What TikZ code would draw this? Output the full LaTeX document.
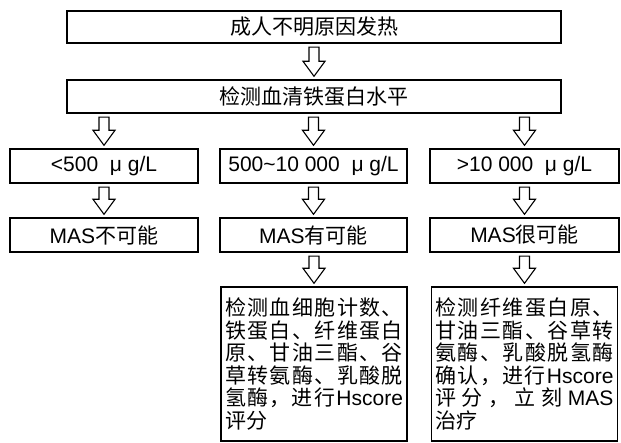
\documentclass[tikz,border=0pt]{standalone}
\usepackage{fontspec}
\setmainfont{Liberation Sans}
\newfontfamily\cjk{Noto Sans CJK SC}
\usetikzlibrary{calc}
\setlength\parindent{0pt}
\newcommand\spreadln[1]{\leavevmode\hbox to 178pt{#1}}
\newcommand\hollowarrow[2]{%
  \draw[arrowline] let \p1=(#1), \p2=(#2) in
    (\x2-5pt,\y1-3.5pt) -- (\x2+5pt,\y1-3.5pt) -- (\x2+5pt,\y2+18pt) --
    (\x2+11pt,\y2+18pt) -- (\x2,\y2+3pt) -- (\x2-11pt,\y2+18pt) --
    (\x2-5pt,\y2+18pt) -- cycle;}
\begin{document}
\begin{tikzpicture}[x=1pt,y=-1pt,
  box/.style={draw, line width=1.4pt, inner sep=0pt, align=center,
    font=\fontsize{21}{22.6}\selectfont},
  detail/.style={box, minimum height=154, text width=178, inner xsep=4pt, align=left},
  arrowline/.style={line width=1.1pt, fill=white, line join=miter},
]
\fill[white] (0,0) rectangle (621,443);
\useasboundingbox (0,0) rectangle (621,443);

\node[box, minimum width=494, minimum height=32] (title) at (314,27) {\cjk 成人不明原因发热};
\node[box, minimum width=494, minimum height=33] (ferr) at (314,96.5) {\cjk 检测血清铁蛋白水平};

\node[box, minimum width=188, minimum height=34] (r1) at (104,166) {<500\ \ μ g/L};
\node[box, minimum width=187, minimum height=34] (r2) at (313.5,166) {500\textasciitilde 10 000\ \ μ g/L};
\node[box, minimum width=189, minimum height=34] (r3) at (524.5,166) {>10 000\ \ μ g/L};

\node[box, minimum width=188, minimum height=34] (p1) at (104,235) {MAS{\cjk 不可能}};
\node[box, minimum width=187, minimum height=34] (p2) at (313.5,235) {MAS{\cjk 有可能}};
\node[box, minimum width=189, minimum height=34] (p3) at (524.5,235) {MAS{\cjk 很可能}};

\node[detail] (d2) at (314,364) {%
\spreadln{\cjk 检\hfill 测\hfill 血\hfill 细\hfill 胞\hfill 计\hfill 数\hfill 、}\\
\spreadln{\cjk 铁\hfill 蛋\hfill 白\hfill 、\hfill 纤\hfill 维\hfill 蛋\hfill 白}\\
\spreadln{\cjk 原\hfill 、\hfill 甘\hfill 油\hfill 三\hfill 酯\hfill 、\hfill 谷}\\
\spreadln{\cjk 草\hfill 转\hfill 氨\hfill 酶\hfill 、\hfill 乳\hfill 酸\hfill 脱}\\
\spreadln{{\cjk 氢\hfill 酶\hfill ，\hfill 进\hfill 行}\hfill Hscore}\\
{\cjk 评分}};

\node[detail] (d3) at (524.5,364) {%
\spreadln{\cjk 检\hfill 测\hfill 纤\hfill 维\hfill 蛋\hfill 白\hfill 原\hfill 、}\\
\spreadln{\cjk 甘\hfill 油\hfill 三\hfill 酯\hfill 、\hfill 谷\hfill 草\hfill 转}\\
\spreadln{\cjk 氨\hfill 酶\hfill 、\hfill 乳\hfill 酸\hfill 脱\hfill 氢\hfill 酶}\\
\spreadln{{\cjk 确\hfill 认\hfill ，\hfill 进\hfill 行}\hfill Hscore}\\
\spreadln{{\cjk 评\hfill 分\hfill ，\hfill 立\hfill 刻}\hfill MAS}\\
{\cjk 治疗}};

\hollowarrow{title.south}{ferr.north}
\hollowarrow{ferr.south}{r1.north}
\hollowarrow{ferr.south}{r2.north}
\hollowarrow{ferr.south}{r3.north}
\hollowarrow{r1.south}{p1.north}
\hollowarrow{r2.south}{p2.north}
\hollowarrow{r3.south}{p3.north}
\hollowarrow{p2.south}{d2.north}
\hollowarrow{p3.south}{d3.north}
\end{tikzpicture}
\end{document}
